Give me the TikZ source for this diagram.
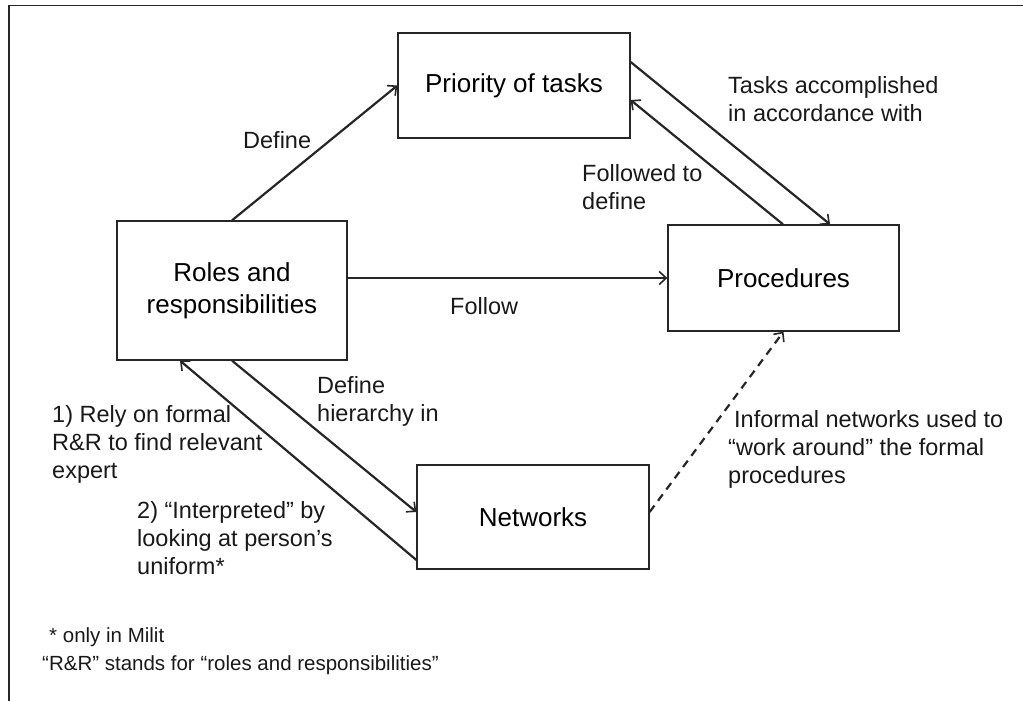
\documentclass[tikz,border=0pt]{standalone}
\usepackage{fontspec}
\setmainfont{Liberation Sans}
\usetikzlibrary{arrows.meta}
\begin{document}
\begin{tikzpicture}[x=1pt,y=-1pt,
  box/.style={draw=black!85, line width=1.3pt, inner sep=0pt, align=center,
    font=\fontsize{26}{32}\selectfont},
  conn/.style={draw=black!85, line width=2.2pt,
    -{Straight Barb[length=7pt,width=13pt,line width=1.6pt]}},
  lbl/.style={anchor=west, align=left, inner sep=0pt, text=black!90,
    font=\fontsize{23.5}{28}\selectfont},
  note/.style={anchor=west, inner sep=0pt, text=black!90,
    font=\fontsize{20.5}{22}\selectfont}]
\useasboundingbox (0,0) rectangle (1023,701);
\draw[line width=1.5pt, black!85] (1023,5.5) -- (9,5.5) -- (9,701);

\node[box, minimum width=232pt, minimum height=105pt] (prio) at (514,85.5) {Priority of tasks};
\node[box, minimum width=230pt, minimum height=139pt] (roles) at (232,290.5) {Roles and\\responsibilities};
\node[box, minimum width=231pt, minimum height=106pt] (proc) at (783.5,278) {Procedures};
\node[box, minimum width=232pt, minimum height=104pt] (net) at (533,517) {Networks};

\draw[conn] (roles.north) -- (prio.west);
\draw[conn] ([yshift=23.5pt]prio.east) -- ([xshift=46.5pt]proc.north);
\draw[conn] ([xshift=-0.5pt]proc.north) -- ([yshift=-14.5pt]prio.east);
\draw[conn] (roles.east |- proc.west) -- (proc.west);
\draw[conn] (roles.south) -- ([yshift=5pt]net.west);
\draw[conn] ([yshift=-43pt]net.west) -- ([xshift=-52pt]roles.south);
\draw[conn, dash pattern=on 8pt off 6pt] ([yshift=5pt]net.east) -- (proc.south);

\node[lbl] (ldefine) at (243,140) {Define};
\node[lbl] (lfollow) at (450,306) {Follow};
\node[lbl] (ltasks) at (728,99) {Tasks accomplished\\in accordance with};
\node[lbl] (lfollowed) at (582,187) {Followed to\\define};
\node[lbl] (lhier) at (317,401) {Define\\hierarchy in};
\node[lbl] (lrely) at (52,444) {1) Rely on formal\\R\&R to find relevant\\expert};
\node[lbl] (linterp) at (137,538) {2) “Interpreted”\ by\\looking at person’s\\uniform*};
\node[lbl] (linformal) at (728,449) {\hspace{6pt}Informal networks used to\\“work around” the formal\\procedures};
\node[note] (nmilit) at (49,637) {* only in Milit};
\node[note] (nrr) at (42,665) {“R\&R” stands for “roles and responsibilities”};
\end{tikzpicture}
\end{document}
